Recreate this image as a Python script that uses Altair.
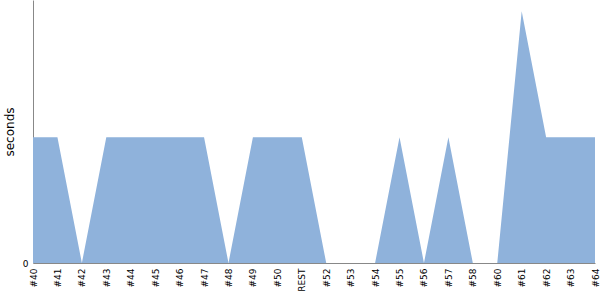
import altair as alt
import pandas as pd

categories = ["#40", "#41", "#42", "#43", "#44", "#45", "#46", "#47", "#48", "#49",
              "#50", "REST", "#52", "#53", "#54", "#55", "#56", "#57", "#58", "#60",
              "#61", "#62", "#63", "#64"]
seconds = [1, 1, 0, 1, 1, 1, 1, 1, 0, 1,
           1, 1, 0, 0, 0, 1, 0, 1, 0, 0,
           2, 1, 1, 1]

df = pd.DataFrame({"build": categories, "seconds": seconds})

chart = alt.Chart(df).mark_area(color="#8fb2db", opacity=1).encode(
    x=alt.X("build:N", sort=categories,
            scale=alt.Scale(type="point", padding=0),
            axis=alt.Axis(title=None, labelAngle=-90, ticks=False, grid=False,
                          domainColor="#888888", labelFont="DejaVu Sans",
                          labelFontSize=9, labelColor="#000000", labelPadding=5)),
    y=alt.Y("seconds:Q", scale=alt.Scale(domain=[0, 2.09], nice=False),
            axis=alt.Axis(title="seconds", values=[0], ticks=False, grid=False,
                          domainColor="#888888", labelFont="DejaVu Sans",
                          labelFontSize=9, labelColor="#000000", labelPadding=5,
                          titleFont="DejaVu Sans", titleFontSize=12,
                          titleFontWeight="normal", titleColor="#000000",
                          titlePadding=6)),
).properties(
    width=562, height=263,
    autosize=alt.AutoSizeParams(type="none"),
    padding={"left": 33, "top": 0, "right": 5, "bottom": 37},
).configure_view(stroke=None)

chart.save("out.html", embed_options={"renderer": "svg", "actions": False})
